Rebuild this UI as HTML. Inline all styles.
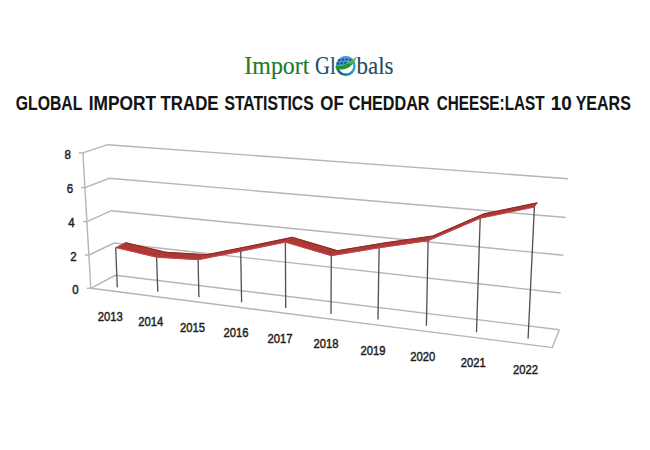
<!DOCTYPE html>
<html><head><meta charset="utf-8"><style>
html,body{margin:0;padding:0;background:#fff;}
body{width:650px;height:450px;overflow:hidden;position:relative;}
svg{position:absolute;left:0;top:0;}
.ax{font-family:"Liberation Sans",Arial,sans-serif;font-size:12.5px;fill:#1e1e1e;stroke:#1e1e1e;stroke-width:0.45px;}
.title{font-family:"Liberation Sans",Arial,sans-serif;font-weight:bold;font-size:19.5px;fill:#141414;stroke:#141414;stroke-width:0.1px;}
.logo{font-family:"Liberation Serif","Times New Roman",serif;font-size:25.5px;stroke-width:0.15px;}
</style></head><body>
<svg width="650" height="450" viewBox="0 0 650 450">
<polyline points="90.8,288.3 552.3,347.6 559.3,329.7" fill="none" stroke="#b5b5b5" stroke-width="1.4"/>
<polyline points="90.8,288.3 115.3,275.3 559.3,329.7" fill="none" stroke="#b5b5b5" stroke-width="1.4"/>
<line x1="86.8" y1="288.3" x2="90.8" y2="288.3" stroke="#b5b5b5" stroke-width="1.4"/>
<polyline points="89,255 114,243 560.8,293" fill="none" stroke="#b5b5b5" stroke-width="1.4"/>
<line x1="85" y1="255" x2="89" y2="255" stroke="#b5b5b5" stroke-width="1.4"/>
<polyline points="87,221.6 111.3,210.7 563.3,255.3" fill="none" stroke="#b5b5b5" stroke-width="1.4"/>
<line x1="83" y1="221.6" x2="87" y2="221.6" stroke="#b5b5b5" stroke-width="1.4"/>
<polyline points="85,187.6 109.3,178.3 565.8,217.5" fill="none" stroke="#b5b5b5" stroke-width="1.4"/>
<line x1="81" y1="187.6" x2="85" y2="187.6" stroke="#b5b5b5" stroke-width="1.4"/>
<polyline points="82.9,152.9 107.6,144.7 568,178.7" fill="none" stroke="#b5b5b5" stroke-width="1.4"/>
<line x1="78.9" y1="152.9" x2="82.9" y2="152.9" stroke="#b5b5b5" stroke-width="1.4"/>
<line x1="82.9" y1="152.9" x2="90.8" y2="288.3" stroke="#b5b5b5" stroke-width="1.4"/>
<line x1="115.7" y1="247.5" x2="117.3" y2="287.3" stroke="#505050" stroke-width="1.3"/>
<line x1="156.6" y1="257.2" x2="157.8" y2="291.8" stroke="#505050" stroke-width="1.3"/>
<line x1="198.1" y1="259.7" x2="198.9" y2="297.2" stroke="#505050" stroke-width="1.3"/>
<line x1="240.7" y1="251.3" x2="241.6" y2="302.2" stroke="#505050" stroke-width="1.3"/>
<line x1="285.4" y1="242.1" x2="285.7" y2="308.1" stroke="#505050" stroke-width="1.3"/>
<line x1="331.3" y1="255.7" x2="331" y2="314" stroke="#505050" stroke-width="1.3"/>
<line x1="379.1" y1="247.8" x2="378" y2="319.5" stroke="#505050" stroke-width="1.3"/>
<line x1="428.1" y1="240.7" x2="426.4" y2="325.8" stroke="#505050" stroke-width="1.3"/>
<line x1="480.2" y1="218.2" x2="476.5" y2="332.3" stroke="#505050" stroke-width="1.3"/>
<line x1="534.4" y1="207" x2="528.1" y2="338.6" stroke="#505050" stroke-width="1.3"/>
<g fill="#ad3935" stroke="#ad3935" stroke-width="0.6" stroke-linejoin="round"><polygon points="115.7,247.5 156.6,257.2 165.6,252.2 125.4,242.6"/><polygon points="156.6,257.2 198.1,259.7 206.5,254.7 165.6,252.2"/><polygon points="198.1,259.7 240.7,251.3 248.4,246.4 206.5,254.7"/><polygon points="240.7,251.3 285.4,242.1 292.3,237.3 248.4,246.4"/><polygon points="285.4,242.1 331.3,255.7 337.5,250.7 292.3,237.3"/><polygon points="331.3,255.7 379.1,247.8 384.5,242.9 337.5,250.7"/><polygon points="379.1,247.8 428.1,240.7 432.7,236 384.5,242.9"/><polygon points="428.1,240.7 480.2,218.2 484,213.8 432.7,236"/><polygon points="480.2,218.2 534.4,207 537.3,202.8 484,213.8"/></g>
<polyline points="125.4,242.6 165.6,252.2 206.5,254.7 248.4,246.4 292.3,237.3 337.5,250.7 384.5,242.9 432.7,236 484,213.8 537.3,202.8" fill="none" stroke="#8a2424" stroke-width="1" stroke-linejoin="round"/>
<polyline points="115.7,247.5 156.6,257.2 198.1,259.7 240.7,251.3 285.4,242.1 331.3,255.7 379.1,247.8 428.1,240.7 480.2,218.2 534.4,207" fill="none" stroke="#c8434c" stroke-width="1" stroke-linejoin="round"/>
<text transform="translate(78.6,293.7) scale(0.92,1)" text-anchor="end" class="ax">0</text>
<text transform="translate(76.6,261.3) scale(0.92,1)" text-anchor="end" class="ax">2</text>
<text transform="translate(74.7,227.3) scale(0.92,1)" text-anchor="end" class="ax">4</text>
<text transform="translate(73.2,192.7) scale(0.92,1)" text-anchor="end" class="ax">6</text>
<text transform="translate(71,158.7) scale(0.92,1)" text-anchor="end" class="ax">8</text>
<text transform="translate(110.3,321) scale(0.9,1)" text-anchor="middle" class="ax">2013</text>
<text transform="translate(150.7,326) scale(0.9,1)" text-anchor="middle" class="ax">2014</text>
<text transform="translate(192.6,331.6) scale(0.9,1)" text-anchor="middle" class="ax">2015</text>
<text transform="translate(235.9,337) scale(0.9,1)" text-anchor="middle" class="ax">2016</text>
<text transform="translate(280.1,342.7) scale(0.9,1)" text-anchor="middle" class="ax">2017</text>
<text transform="translate(326.1,348.3) scale(0.9,1)" text-anchor="middle" class="ax">2018</text>
<text transform="translate(373.1,354.5) scale(0.9,1)" text-anchor="middle" class="ax">2019</text>
<text transform="translate(422.8,360.9) scale(0.9,1)" text-anchor="middle" class="ax">2020</text>
<text transform="translate(473.2,367.1) scale(0.9,1)" text-anchor="middle" class="ax">2021</text>
<text transform="translate(525.4,373.7) scale(0.9,1)" text-anchor="middle" class="ax">2022</text>
<text transform="translate(15.85,110) scale(0.8084,1)" class="title">GLOBAL</text>
<text transform="translate(88.65,110) scale(0.8883,1)" class="title">IMPORT</text>
<text transform="translate(160.53,110) scale(0.8640,1)" class="title">TRADE</text>
<text transform="translate(224.42,110) scale(0.8055,1)" class="title">STATISTICS</text>
<text transform="translate(320.31,110) scale(0.8633,1)" class="title">OF</text>
<text transform="translate(348.74,110) scale(0.8287,1)" class="title">CHEDDAR</text>
<text transform="translate(436.67,110) scale(0.7848,1)" class="title">CHEESE:LAST</text>
<text transform="translate(550.73,110) scale(0.9746,1)" class="title">10</text>
<text transform="translate(575.67,110) scale(0.8212,1)" class="title">YEARS</text>
<text transform="translate(244.36,74.0) scale(0.9371,1)" class="logo" fill="#237a2c" stroke="#237a2c">Import</text>
<text transform="translate(314.99,74.2) scale(0.8125,1)" class="logo" fill="#1d4d69" stroke="#1d4d69">Gl</text>
<text transform="translate(356.50,73.9) scale(0.9002,1)" class="logo" fill="#1d4d69" stroke="#1d4d69">bals</text>
<g>
<defs><clipPath id="gtop"><path d="M335,66.3 C341,67.2 348,64.2 357,57 L357,55 L335,55 Z"/></clipPath>
<linearGradient id="ring" x1="0" y1="0" x2="1" y2="0"><stop offset="0" stop-color="#1b5e84"/><stop offset="0.6" stop-color="#1f78a8"/><stop offset="1" stop-color="#35a6da"/></linearGradient></defs>
<circle cx="345.8" cy="66.1" r="8.7" fill="#fff" stroke="url(#ring)" stroke-width="2.5"/>
<g clip-path="url(#gtop)"><circle cx="345.8" cy="66.1" r="10.0" fill="#4a9ed6"/>
<g fill="#1f4a80">
<rect x="338.3" y="59.4" width="2.3" height="1.9"/><rect x="341.9" y="58.7" width="2.3" height="1.9"/><rect x="345.5" y="58.5" width="2.2" height="1.8"/><rect x="349.1" y="58.9" width="2" height="1.6"/>
<rect x="337" y="62.7" width="2.3" height="1.9"/><rect x="340.6" y="62.3" width="2.3" height="1.9"/><rect x="344.2" y="62.1" width="2.2" height="1.8"/>
</g></g>
<path d="M335.6,66.1 C341,67.0 348,64.0 356.3,57.0 C354.5,62.5 350.5,68.6 343,69.4 C339.5,69.8 337,69.3 335.6,68.3 Z" fill="#25962a"/>
<path d="M347,63.6 C350.5,61.6 353.5,59.4 356.3,57.0 C355.4,59.6 354,61.8 352.3,63.6 Z" fill="#62c43c" opacity="0.85"/>
</g>
</svg>
</body></html>
